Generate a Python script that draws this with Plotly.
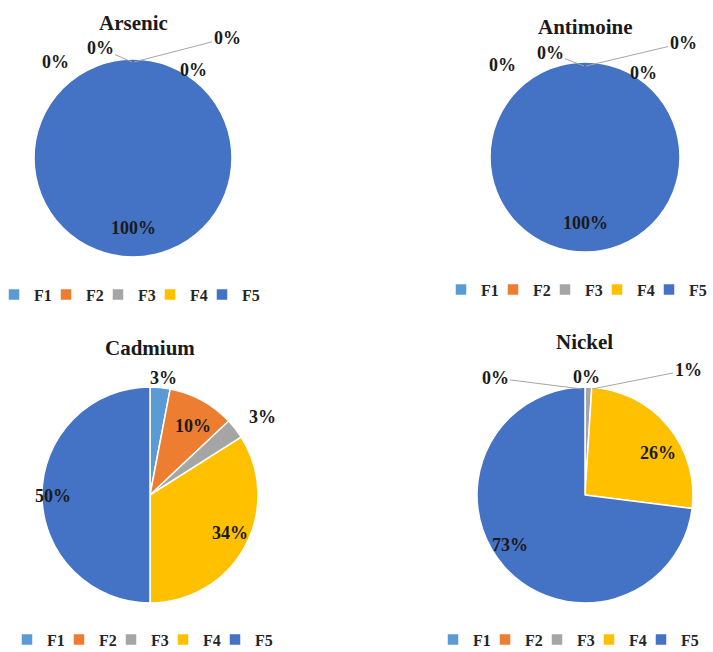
import plotly.graph_objects as go

W, H = 713, 652

categories = ["F1", "F2", "F3", "F4", "F5"]
arsenic = [0, 0, 0, 0, 100]
antimoine = [0, 0, 0, 0, 100]
cadmium = [3, 10, 3, 34, 50]
nickel = [0, 0, 1, 26, 73]
titles = ["Arsenic", "Antimoine", "Cadmium", "Nickel"]
colors = ["#5B9BD5", "#ED7D31", "#A5A5A5", "#FFC000", "#4472C4"]

FONT = "Liberation Serif"
TXT = "#1a1a1a"


def px(x):
    return x / W


def py(y):
    return 1 - y / H


def dom(cx, cy, d):
    return dict(x=[px(cx - d / 2), px(cx + d / 2)], y=[py(cy + d / 2), py(cy - d / 2)])


# pie geometry (center x, center y, diameter) in pixels
geo = [(133, 158, 198), (585, 157, 190), (150, 495, 216), (585, 495, 216)]
series = [arsenic, antimoine, cadmium, nickel]
legend_names = ["legend", "legend2", "legend3", "legend4"]
legend_pos = [(-6, 292), (441, 287), (7, 637), (433, 637)]

fig = go.Figure()
for i, (vals, (cx, cy, d), lg) in enumerate(zip(series, geo, legend_names)):
    # zero-width spaces keep each chart's legend entries separate
    labs = [c + "\u200b" * i for c in categories]
    fig.add_trace(go.Pie(
        labels=labs, values=vals, sort=False, direction="clockwise", rotation=0,
        marker=dict(colors=colors, line=dict(color="white", width=1.5)),
        textinfo="none", domain=dom(cx, cy, d), legend=lg, hoverinfo="label+percent",
    ))

annotations = []
for t, (x, y) in zip(titles, [(133, 23), (585, 27), (150, 348), (584, 342)]):
    annotations.append(dict(text=t, x=px(x), y=py(y), xref="paper", yref="paper",
                            xanchor="center", yanchor="middle", showarrow=False,
                            font=dict(family=FONT, size=21, color=TXT, weight="bold")))


def lab(v, x, y, tip=None):
    a = dict(text=f"{v}%", xref="paper", yref="paper", showarrow=False,
             xanchor="center", yanchor="middle",
             font=dict(family=FONT, size=18, color=TXT, weight="bold"))
    if tip is None:
        a.update(x=px(x), y=py(y))
    else:
        a.update(x=px(tip[0]), y=py(tip[1]), showarrow=True, arrowhead=0, arrowwidth=1,
                 arrowcolor="#A6A6A6", ax=x - tip[0], ay=y - tip[1], standoff=0)
    annotations.append(a)


# Arsenic
lab(arsenic[0], 193, 70)
lab(arsenic[1], 227, 38, tip=(134, 62))
lab(arsenic[2], 100, 48, tip=(132, 62))
lab(arsenic[3], 55, 62)
lab(arsenic[4], 133, 228)
# Antimoine
lab(antimoine[0], 643, 73)
lab(antimoine[1], 683, 43, tip=(586, 66))
lab(antimoine[2], 550, 53, tip=(584, 66))
lab(antimoine[3], 503, 65)
lab(antimoine[4], 585, 223)
# Cadmium
lab(cadmium[0], 163, 378)
lab(cadmium[1], 193, 426)
lab(cadmium[2], 262, 417)
lab(cadmium[3], 230, 533)
lab(cadmium[4], 53, 496)
# Nickel
lab(nickel[0], 495, 378, tip=(582, 389))
lab(nickel[1], 586, 377)
lab(nickel[2], 688, 370, tip=(592, 389))
lab(nickel[3], 658, 453)
lab(nickel[4], 510, 545)

# an empty (non-breaking space) legend title widens the legend box so the
# last entry is not clipped
spacer = "\u00a0" * 280
layout_legends = {}
for lg, (x, y) in zip(legend_names, legend_pos):
    layout_legends[lg] = dict(orientation="h", x=px(x), y=py(y), xanchor="left", yanchor="middle",
                              font=dict(family=FONT, size=16, color="#262626", weight="bold"),
                              bgcolor="rgba(0,0,0,0)", itemwidth=30, traceorder="normal",
                              entrywidth=7, entrywidthmode="pixels",
                              title=dict(text=spacer, side="top",
                                         font=dict(family=FONT, size=4, color="rgba(0,0,0,0)")))

fig.update_layout(width=W, height=H, margin=dict(l=0, r=0, t=0, b=0, autoexpand=False),
                  paper_bgcolor="white", plot_bgcolor="white",
                  annotations=annotations, showlegend=True, **layout_legends)

fig.write_html("out.html", config={"displayModeBar": False})
